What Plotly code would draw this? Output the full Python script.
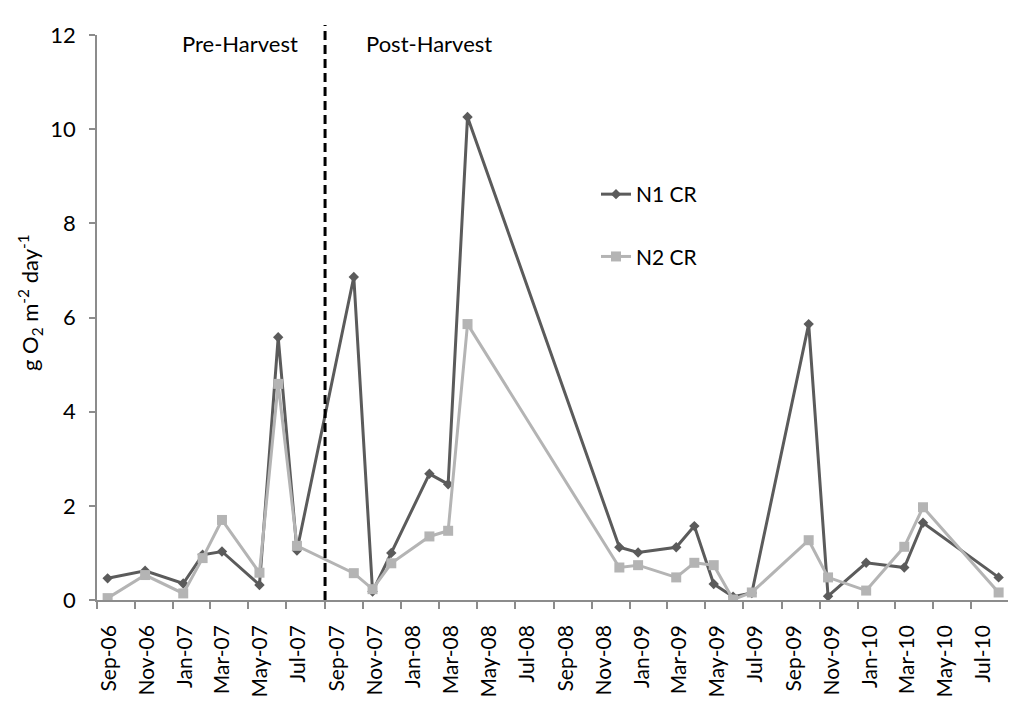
import plotly.graph_objects as go

dates = ["2006-09-18", "2006-11-17", "2007-01-17", "2007-02-17", "2007-03-20",
         "2007-05-19", "2007-06-18", "2007-07-18", "2007-10-17", "2007-11-16",
         "2007-12-16", "2008-02-15", "2008-03-16", "2008-04-16", "2008-12-15",
         "2009-01-14", "2009-03-16", "2009-04-14", "2009-05-15", "2009-06-15",
         "2009-07-15", "2009-10-14", "2009-11-14", "2010-01-14", "2010-03-16",
         "2010-04-15", "2010-08-14"]
n1_cr = [0.46, 0.62, 0.35, 0.96, 1.03, 0.32, 5.58, 1.05, 6.86, 0.18, 1.0, 2.68,
         2.46, 10.26, 1.12, 1.01, 1.12, 1.57, 0.34, 0.07, 0.15, 5.86, 0.08, 0.79,
         0.69, 1.64, 0.48]
n2_cr = [0.04, 0.53, 0.14, 0.89, 1.70, 0.58, 4.59, 1.15, 0.57, 0.23, 0.78, 1.35,
         1.47, 5.86, 0.69, 0.74, 0.48, 0.79, 0.74, 0.01, 0.16, 1.27, 0.48, 0.20,
         1.13, 1.97, 0.16]
harvest_date = "2007-09-01"
x_range = ["2006-09-01", "2010-08-29"]

FONT = "Lato"
L, R, T, B = 97, 16, 35, 114
PW, PH = 1024 - L - R, 714 - T - B


def px_x(px):
    return (px - L) / PW


def px_y(py):
    return (T + PH - py) / PH


fig = go.Figure()
fig.add_trace(go.Scatter(x=dates, y=n1_cr, name="N1 CR", mode="lines+markers",
                         legendgroup="a",
                         line=dict(color="#5b5b5b", width=3),
                         marker=dict(symbol="diamond", size=8, color="#5b5b5b")))
fig.add_trace(go.Scatter(x=dates, y=n2_cr, name="N2 CR", mode="lines+markers",
                         legendgroup="b",
                         line=dict(color="#b4b4b4", width=3),
                         marker=dict(symbol="square", size=10, color="#b4b4b4")))

fig.add_shape(type="line", xref="x", yref="paper", x0=harvest_date, x1=harvest_date,
              y0=0, y1=px_y(25), line=dict(color="black", width=3, dash="9px,5px"))

fig.add_annotation(x=px_x(240), y=px_y(43), xref="paper", yref="paper",
                   text="Pre-Harvest", showarrow=False, xanchor="center", yanchor="middle",
                   font=dict(family=FONT, size=22, color="black"))
fig.add_annotation(x=px_x(429), y=px_y(43), xref="paper", yref="paper",
                   text="Post-Harvest", showarrow=False, xanchor="center", yanchor="middle",
                   font=dict(family=FONT, size=22, color="black"))
fig.add_annotation(x=px_x(30), y=px_y(303), xref="paper", yref="paper",
                   text="g O<sub>2</sub> m<sup>-2</sup> day<sup>-1</sup>",
                   textangle=-90, showarrow=False, xanchor="center", yanchor="middle",
                   font=dict(family=FONT, size=22, color="black"))

fig.update_layout(
    width=1024, height=714,
    margin=dict(l=L, r=R, t=T, b=B),
    paper_bgcolor="white", plot_bgcolor="white",
    font=dict(family=FONT, color="black"),
    showlegend=True,
    legend=dict(x=px_x(596), y=px_y(174), xanchor="left", yanchor="top",
                font=dict(family=FONT, size=21, color="black"),
                tracegroupgap=32, bgcolor="rgba(0,0,0,0)"),
    xaxis=dict(type="date", range=x_range, dtick="M2", tick0="2006-09-01",
               tickformat="%b-%y", tickangle=-90, showgrid=False, zeroline=False,
               showline=True, linecolor="#8c8c8c", linewidth=1.5,
               ticks="outside", ticklen=7, tickcolor="#8c8c8c", tickwidth=1.5,
               tickfont=dict(family=FONT, size=21, color="black"),
               ticklabelshift=12, ticklabelstandoff=8),
    yaxis=dict(range=[0, 12], dtick=2, showgrid=False, zeroline=False,
               showline=True, linecolor="#8c8c8c", linewidth=1.5,
               ticks="outside", ticklen=6, tickcolor="#8c8c8c", tickwidth=1.5,
               tickfont=dict(family=FONT, size=22, color="black"),
               ticklabelstandoff=9),
)

fig.write_html("out.html", config={"displayModeBar": False},
               post_script="document.body.style.margin='0';document.body.style.padding='0';")
